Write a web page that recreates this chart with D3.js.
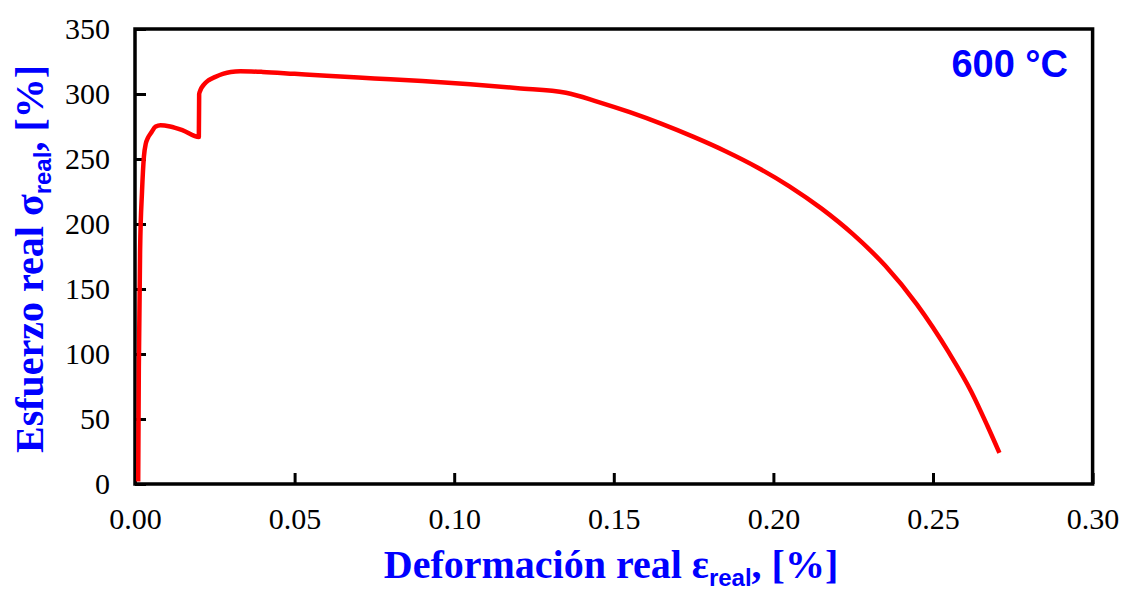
<!DOCTYPE html>
<html>
<head>
<meta charset="utf-8">
<script src="https://cdnjs.cloudflare.com/ajax/libs/d3/7.8.5/d3.min.js"></script>
<style>
  body { margin: 0; background: #fff; }
  svg { display: block; }
</style>
</head>
<body>
<div id="chart"></div>
<script>
"use strict";

// == DATA ==
var strain = [0.0010, 0.0012, 0.0016, 0.0022, 0.0028, 0.0034, 0.0040, 0.0050, 0.0065, 0.0080,
              0.0110, 0.0150, 0.0200, 0.0201, 0.0205, 0.0215, 0.0230, 0.0250, 0.0275, 0.0300,
              0.0330, 0.0400, 0.0500, 0.0600, 0.0750, 0.0900, 0.1050, 0.1200, 0.1350, 0.1450,
              0.1550, 0.1650, 0.1750, 0.1850, 0.1950, 0.2050, 0.2150, 0.2250, 0.2350, 0.2450,
              0.2550, 0.2620, 0.2670, 0.2708];
var stress = [2, 90, 180, 225, 252, 262, 266, 270, 275, 276,
              275, 272, 267, 300, 303, 307, 310.5, 313, 315.5, 317,
              317.5, 317, 315.5, 314, 312, 310, 307.5, 304.5, 301, 294,
              286, 277, 267, 256, 243.5, 229, 212, 192, 168, 138,
              101, 71, 45, 24];
var xTicks = [0, 0.05, 0.10, 0.15, 0.20, 0.25, 0.30];
var yTicks = [0, 50, 100, 150, 200, 250, 300, 350];
var tempLabel = "600 °C";

// == BOILERPLATE ==
var W = 1124, H = 592;
var margin = { top: 29, left: 135 },
    width = 957.6,
    height = 455;

var svg = d3.select("#chart")
            .append("svg")
            .attr("width", W)
            .attr("height", H);

var g = svg.append("g")
           .attr("transform", "translate(" + margin.left + "," + margin.top + ")");

var xScale = d3.scaleLinear().domain([0, 0.30]).range([0, width]);
var yScale = d3.scaleLinear().domain([0, 350]).range([height, 0]);

// axes, ticks pointing inward
var xAxis = d3.axisBottom(xScale)
              .tickValues(xTicks)
              .tickFormat(d3.format(".2f"))
              .tickSize(-11)
              .tickPadding(24);
var yAxis = d3.axisLeft(yScale)
              .tickValues(yTicks)
              .tickFormat(d3.format("d"))
              .tickSize(-11)
              .tickPadding(25);

var gx = g.append("g")
          .attr("transform", "translate(0," + height + ")")
          .call(xAxis);
var gy = g.append("g").call(yAxis);

[gx, gy].forEach(function (a) {
  a.attr("font-family", null).attr("font-size", null);
  a.select(".domain").remove();
  a.selectAll(".tick line").attr("stroke", "#000").attr("stroke-width", 3);
  a.selectAll(".tick text")
   .attr("fill", "#000")
   .style("font-family", "'Liberation Serif', 'Times New Roman', serif")
   .style("font-size", "30px");
});

// frame
g.append("rect")
 .attr("x", 0).attr("y", 0)
 .attr("width", width).attr("height", height)
 .attr("fill", "none")
 .attr("stroke", "#000")
 .attr("stroke-width", 3.5);

// curve
var pts = strain.map(function (d, i) { return [d, stress[i]]; });
var line = d3.line()
             .curve(d3.curveMonotoneX)
             .x(function (d) { return xScale(d[0]); })
             .y(function (d) { return yScale(d[1]); });

g.append("path")
 .datum(pts)
 .attr("d", line)
 .attr("fill", "none")
 .attr("stroke", "#ff0000")
 .attr("stroke-width", 4.5)
 .attr("stroke-linejoin", "round")
 .attr("stroke-linecap", "butt");

// temperature label
svg.append("text")
   .attr("x", 1068)
   .attr("y", 77)
   .attr("text-anchor", "end")
   .attr("fill", "#0000ff")
   .style("font-family", "'Liberation Sans', Arial, sans-serif")
   .style("font-weight", "bold")
   .style("font-size", "38px")
   .text(tempLabel);

// axis titles
var serif = "'Liberation Serif', 'Times New Roman', serif";
var sans = "'Liberation Sans', Arial, sans-serif";

function title(sel, main, sym, size) {
  sel.attr("fill", "#0000ff")
     .style("font-family", serif)
     .style("font-weight", "bold")
     .style("font-size", size + "px");
  sel.append("tspan").text(main + " " + sym);
  sel.append("tspan")
     .attr("dy", 8)
     .style("font-family", sans)
     .style("font-size", "24px")
     .text("real");
  sel.append("tspan")
     .attr("dy", -8)
     .text(", [%]");
}

var xt = svg.append("text")
            .attr("x", 611)
            .attr("y", 578)
            .attr("text-anchor", "middle");
title(xt, "Deformación real", "ε", 40);

var yt = svg.append("text")
            .attr("transform", "translate(43,259) rotate(-90)")
            .attr("x", 0)
            .attr("y", 0)
            .attr("text-anchor", "middle");
title(yt, "Esfuerzo real", "σ", 40);
</script>
</body>
</html>
